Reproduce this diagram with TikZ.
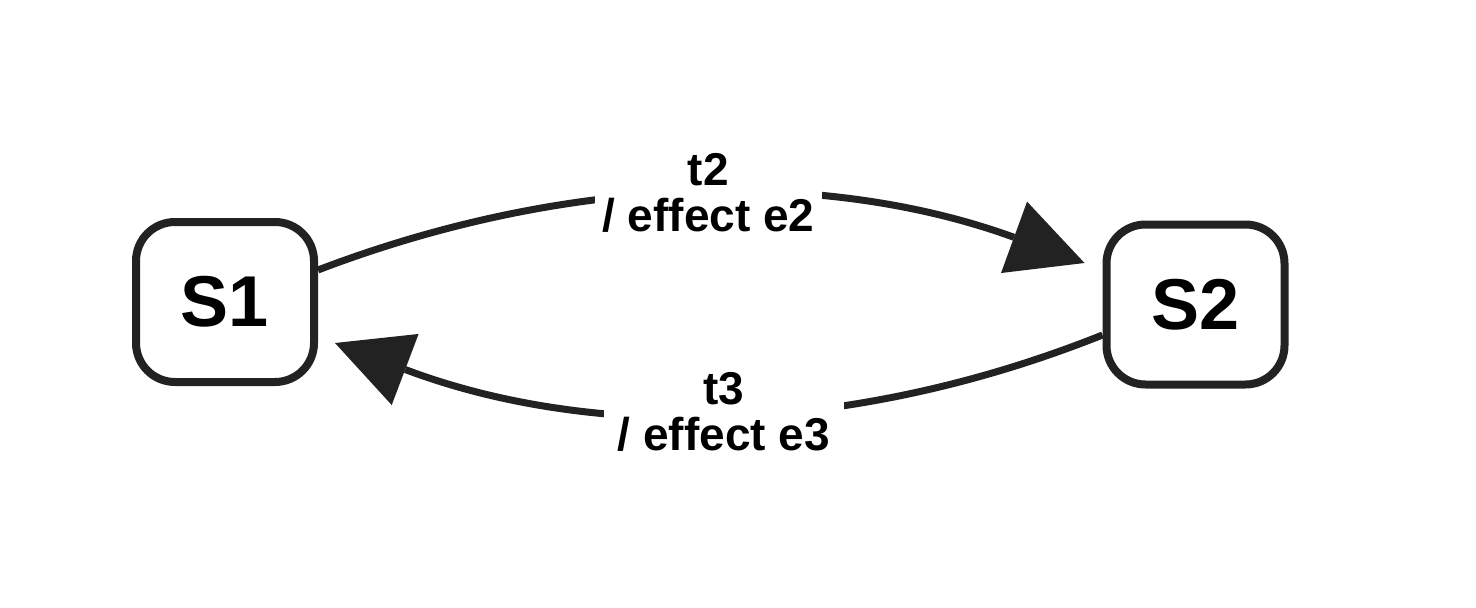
\documentclass[tikz,border=0pt]{standalone}
\usepackage{fontspec}
\setmainfont{Liberation Sans}
\usetikzlibrary{arrows.meta}
\definecolor{ink}{HTML}{222222}
\begin{document}
\begin{tikzpicture}[x=1pt,y=-1pt,
  state/.style={draw=ink, line width=8pt, rounded corners=39pt,
    minimum width=178pt, minimum height=160pt, inner sep=0pt,
    fill=white, text=black, font=\fontsize{72}{80}\selectfont\bfseries},
  trans/.style={draw=ink, line width=7pt,
    -{Triangle[length=75pt,width=76pt,line width=0pt]}},
  lab/.style={fill=white, text=black, align=center, inner xsep=7pt, inner ysep=3pt,
    font=\fontsize{46}{46}\selectfont\bfseries}]
\useasboundingbox (0,0) rectangle (1476,608);
\node[state] (S1) at (225,302) {S1};
\node[state] (S2) at (1195.5,304.5) {S2};
\draw[trans] ([yshift=32pt]S1.east) .. controls (573.7,172.3) and (829.3,170) ..
  node[lab, pos=.5, xshift=7pt, yshift=2pt] (L2) {t2\\/ effect e2}
  ([xshift=-18pt,yshift=41.5pt]S2.west);
\draw[trans] ([yshift=-30.5pt]S2.west) .. controls (847,437) and (591,439.7) ..
  node[lab, pos=.5, xshift=5pt, yshift=2pt, inner xsep=14pt] (L3) {t3\\/ effect e3}
  ([xshift=17pt,yshift=-41pt]S1.east);
\end{tikzpicture}
\end{document}
